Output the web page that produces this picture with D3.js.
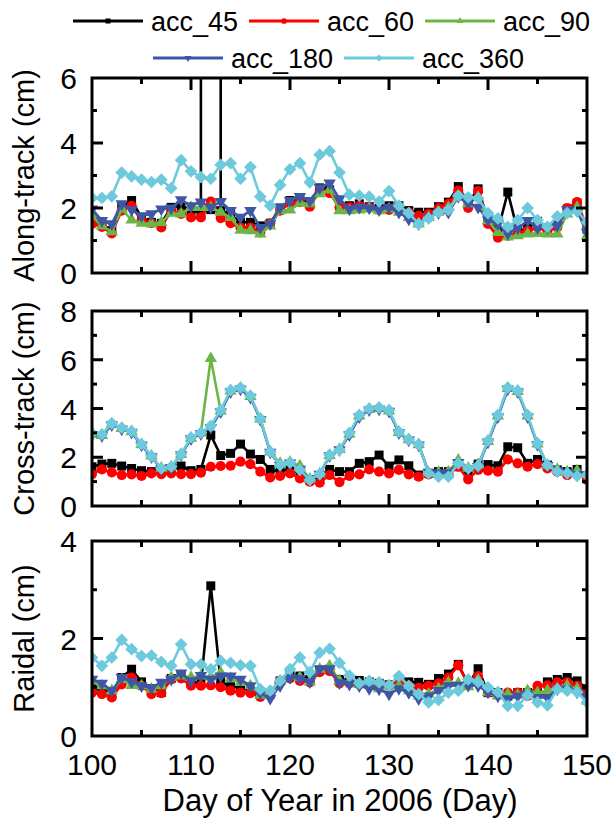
<!DOCTYPE html>
<html>
<head>
<meta charset="utf-8">
<script src="https://cdn.jsdelivr.net/npm/d3@7"></script>
<style>
  body { margin: 0; background: #fff; }
  svg { display: block; font-family: "Liberation Sans", Arial, sans-serif; }
</style>
</head>
<body>
<svg id="chart" width="612" height="819"></svg>
<script>
// day of year, one value per day
var days = d3.range(100, 151);
var xTickLabels = [100, 110, 120, 130, 140, 150];

var seriesNames = ['acc_45', 'acc_60', 'acc_90', 'acc_180', 'acc_360'];
var seriesColors = ['#000000', '#ff0000', '#6cb547', '#3d56a6', '#6dc9dc'];

// along-track (cm)
var along45 = [1.70,1.49,1.30,2.02,2.23,1.71,1.56,1.53,2.02,2.07,1.92,1.86,1.95,1.92,1.80,1.56,1.56,1.45,1.53,2.00,2.23,2.28,2.18,2.62,2.56,2.07,2.07,2.13,2.04,1.99,2.07,2.07,1.92,1.87,1.87,2.04,2.18,2.66,2.15,2.59,1.63,1.30,2.49,1.28,1.38,1.59,1.40,1.46,1.97,2.15,1.35];
var along60 = [1.51,1.42,1.22,1.92,2.07,1.61,1.53,1.40,1.92,1.82,1.71,1.71,2.20,1.69,1.53,1.40,1.40,1.25,1.53,1.92,2.15,2.18,2.04,2.54,2.46,2.02,2.02,2.07,2.02,1.94,1.94,2.02,1.87,1.76,1.82,2.00,2.13,2.54,2.00,2.52,1.51,1.09,1.15,1.22,1.30,1.40,1.30,1.40,2.00,2.18,1.40];
var along90 = [1.76,1.45,1.27,1.97,1.63,1.53,1.51,1.56,1.84,1.82,2.02,2.02,2.02,1.87,1.71,1.32,1.30,1.20,1.45,1.92,1.94,2.15,2.13,2.44,2.56,1.92,1.92,1.94,1.97,1.92,1.97,1.87,1.71,1.51,1.71,1.87,2.02,2.33,2.13,2.33,1.61,1.25,1.11,1.15,1.20,1.22,1.20,1.20,1.82,2.02,1.15];
var along180 = [1.97,1.61,1.51,2.13,1.94,1.76,1.82,1.97,2.00,2.25,2.07,2.18,2.02,2.20,1.92,1.71,1.92,1.40,1.51,2.02,2.23,2.35,2.23,2.62,2.77,2.28,1.97,2.02,2.00,1.94,2.02,1.87,1.66,1.51,1.71,1.85,1.87,2.35,2.15,2.02,1.63,1.51,1.22,1.38,1.61,1.40,1.40,1.46,1.94,1.92,1.25];
var along360 = [2.31,2.31,2.36,3.09,2.97,2.87,2.80,2.87,2.61,3.47,3.13,2.95,2.90,3.33,3.38,2.90,3.26,2.35,2.07,2.71,3.19,3.38,2.79,3.64,3.75,3.09,2.41,2.38,2.35,2.20,2.52,2.07,1.84,1.51,1.68,1.87,1.94,2.38,2.33,2.30,1.84,1.68,1.42,1.63,2.00,1.63,1.42,1.74,1.84,1.90,1.56];
// acc_45 along-track goes far off scale on these days
var along45SpikeDays = [111, 113];
var along45SpikeValue = 60;

// cross-track (cm)
var cross45 = [1.61,1.72,1.75,1.64,1.54,1.45,1.41,1.50,1.48,1.64,1.45,1.50,2.91,2.07,2.16,2.54,2.13,1.91,1.50,1.41,1.54,1.34,1.07,1.09,1.50,1.41,1.41,1.75,1.82,2.09,1.64,1.89,1.65,1.27,1.34,1.41,1.41,1.61,1.27,1.72,1.70,1.65,2.43,2.39,1.75,1.91,1.68,1.48,1.41,1.50,1.20];
var cross60 = [1.31,1.50,1.38,1.27,1.30,1.23,1.34,1.31,1.34,1.31,1.31,1.37,1.61,1.64,1.65,1.82,1.72,1.41,1.17,1.23,1.34,1.13,1.00,0.96,1.27,0.98,1.23,1.30,1.50,1.41,1.34,1.48,1.30,1.20,1.30,1.30,1.36,1.61,1.09,1.48,1.45,1.41,1.91,1.75,1.61,1.72,1.54,1.41,1.27,1.34,1.07];
var cross90 = [2.95,2.90,3.36,3.18,3.05,2.52,2.05,1.55,1.60,2.12,2.78,3.00,6.05,3.90,4.72,4.82,4.50,3.57,2.22,1.75,1.80,1.65,1.10,1.32,2.08,2.32,2.95,3.70,3.96,4.00,3.90,3.02,2.72,2.52,1.36,1.38,1.40,1.88,1.55,1.70,2.65,3.70,4.82,4.70,3.70,2.55,1.68,1.50,1.40,1.45,1.30];
var cross180 = [2.92,2.88,3.33,3.16,3.02,2.50,2.02,1.52,1.58,2.10,2.76,2.96,3.22,3.86,4.68,4.80,4.46,3.55,2.20,1.66,1.76,1.50,1.10,1.30,2.06,2.30,2.92,3.66,3.94,3.98,3.88,3.00,2.70,2.50,1.38,1.35,1.36,1.78,1.52,1.62,2.62,3.66,4.80,4.68,3.66,2.52,1.66,1.45,1.36,1.30,1.28];
var cross360 = [2.98,2.94,3.39,3.21,3.07,2.54,2.05,1.54,1.61,2.13,2.81,3.01,3.29,3.93,4.75,4.86,4.52,3.59,2.23,1.68,1.78,1.48,1.07,1.31,2.10,2.30,3.00,3.73,4.00,4.04,3.93,3.05,2.73,2.53,1.34,1.20,1.20,1.75,1.54,1.65,2.68,3.73,4.86,4.73,3.73,2.57,1.68,1.41,1.34,1.23,1.27];

// radial (cm)
var radial45 = [0.97,0.95,0.88,1.20,1.37,1.11,0.97,0.89,1.18,1.24,1.11,1.08,3.08,1.11,1.01,0.99,0.93,0.86,0.86,1.13,1.27,1.23,1.16,1.35,1.37,1.16,1.16,1.14,1.11,1.08,1.05,1.13,1.11,1.10,1.06,1.18,1.27,1.47,1.06,1.38,0.89,0.89,0.82,0.89,0.89,0.96,1.11,1.16,1.20,1.13,0.97];
var radial60 = [0.89,0.86,0.79,1.06,1.20,1.03,0.86,0.88,1.16,1.18,1.03,1.03,1.04,1.00,0.93,0.89,0.88,0.80,0.90,1.13,1.18,1.13,1.10,1.31,1.33,1.08,1.08,1.06,1.08,1.06,1.04,1.06,1.03,0.99,1.03,1.08,1.20,1.45,1.06,1.23,0.89,0.86,0.89,0.89,0.82,1.03,1.04,1.10,1.10,1.03,0.86];
var radial90 = [1.13,1.03,0.93,1.16,1.04,1.03,0.96,1.03,1.20,1.23,1.20,1.23,1.21,1.30,1.18,1.10,1.03,0.84,0.89,1.13,1.23,1.20,1.11,1.37,1.44,1.13,1.10,1.06,1.10,0.97,1.03,1.03,0.93,0.82,0.86,0.97,1.10,1.08,1.01,1.15,0.90,0.82,0.86,0.84,0.93,0.89,0.93,0.97,1.04,0.97,0.72];
var radial180 = [1.16,1.08,0.93,1.20,1.11,1.03,0.99,1.10,1.16,1.29,1.13,1.24,1.16,1.23,1.23,1.16,1.03,0.88,0.77,1.03,1.20,1.18,1.11,1.38,1.38,1.09,1.06,1.03,0.97,0.96,0.86,0.97,0.89,0.76,0.82,0.93,1.03,1.04,1.04,1.03,0.90,0.82,0.76,0.82,0.86,0.79,0.79,0.96,0.96,0.90,0.82];
var radial360 = [1.61,1.44,1.61,1.97,1.78,1.64,1.65,1.52,1.44,1.88,1.47,1.47,1.37,1.54,1.50,1.45,1.44,0.96,0.93,1.13,1.37,1.61,1.31,1.71,1.79,1.50,1.24,1.08,1.13,1.10,1.04,1.23,1.03,0.86,0.69,0.74,0.89,0.93,1.16,1.11,1.00,0.90,0.62,0.62,0.84,0.69,0.63,0.96,0.93,0.90,0.69];

var panels = [
  { title: 'Along-track (cm)', top: 78, yMax: 6, yLabels: [0, 2, 4, 6], series: [along45, along60, along90, along180, along360] },
  { title: 'Cross-track (cm)', top: 311, yMax: 8, yLabels: [0, 2, 4, 6, 8], series: [cross45, cross60, cross90, cross180, cross360] },
  { title: 'Raidal (cm)', top: 541, yMax: 4, yLabels: [0, 2, 4], series: [radial45, radial60, radial90, radial180, radial360] }
];

var left = 92, right = 587, panelH = 195;
var svg = d3.select('#chart');
var x = d3.scaleLinear().domain([100, 150]).range([left, right]);

// marker shapes per series
function marker(sel, i, size) {
  var types = [d3.symbolSquare, d3.symbolCircle, d3.symbolTriangle, d3.symbolTriangle, d3.symbolSquare];
  var rot = [0, 0, 0, 180, 45];
  var scale = [0.85, 0.85, 0.7, 0.7, 0.85];
  sel.attr('d', d3.symbol().type(types[i]).size(size * scale[i]))
    .attr('transform', function(d) { return d3.select(this).attr('transform') + ' rotate(' + rot[i] + ')'; });
}

panels.forEach(function(p, pi) {
  var y = d3.scaleLinear().domain([0, p.yMax]).range([p.top + panelH, p.top]);
  var g = svg.append('g');

  g.append('clipPath').attr('id', 'clip' + pi)
    .append('rect').attr('x', left).attr('y', p.top).attr('width', right - left).attr('height', panelH);

  var plot = g.append('g').attr('clip-path', 'url(#clip' + pi + ')');

  p.series.forEach(function(vals, si) {
    var pts = days.map(function(d, k) { return [d, vals[k]]; });
    var linePts = pts;
    if (pi === 0 && si === 0) {
      linePts = [];
      pts.forEach(function(pt) {
        linePts.push(pt);
        if (along45SpikeDays.indexOf(pt[0]) >= 0) {
          linePts.push([pt[0], along45SpikeValue]);
          linePts.push(pt);
        }
      });
    }
    plot.append('path')
      .datum(linePts)
      .attr('fill', 'none')
      .attr('stroke', seriesColors[si])
      .attr('stroke-width', 2.6)
      .attr('stroke-linejoin', 'round')
      .attr('d', d3.line().x(function(d) { return x(d[0]); }).y(function(d) { return y(d[1]); }));

    plot.selectAll('.m' + si)
      .data(pts)
      .enter().append('path')
      .attr('class', 'm' + si)
      .attr('fill', seriesColors[si])
      .attr('transform', function(d) { return 'translate(' + x(d[0]) + ',' + y(d[1]) + ')'; })
      .each(function() { marker(d3.select(this), si, 95); });
  });

  // frame
  g.append('rect')
    .attr('x', left).attr('y', p.top).attr('width', right - left).attr('height', panelH)
    .attr('fill', 'none').attr('stroke', '#000').attr('stroke-width', 3);

  // ticks inside on all four sides
  var yTicks = d3.range(1, p.yMax);
  yTicks.forEach(function(v) {
    var len = v % 2 === 0 ? 11 : 5;
    g.append('line').attr('x1', left).attr('x2', left + len).attr('y1', y(v)).attr('y2', y(v))
      .attr('stroke', '#000').attr('stroke-width', 3);
    g.append('line').attr('x1', right).attr('x2', right - len).attr('y1', y(v)).attr('y2', y(v))
      .attr('stroke', '#000').attr('stroke-width', 3);
  });
  d3.range(105, 150, 5).forEach(function(d) {
    var len = d % 10 === 0 ? 12 : 6;
    g.append('line').attr('x1', x(d)).attr('x2', x(d)).attr('y1', p.top).attr('y2', p.top + len)
      .attr('stroke', '#000').attr('stroke-width', 3);
    g.append('line').attr('x1', x(d)).attr('x2', x(d)).attr('y1', p.top + panelH).attr('y2', p.top + panelH - len)
      .attr('stroke', '#000').attr('stroke-width', 3);
  });

  g.selectAll('.ylab')
    .data(p.yLabels)
    .enter().append('text')
    .attr('x', 77)
    .attr('y', function(v) { return y(v) + 11; })
    .attr('text-anchor', 'end')
    .attr('font-size', 30)
    .text(function(v) { return v; });

  g.append('text')
    .attr('transform', 'translate(34,' + (p.top + panelH / 2) + ') rotate(-90)')
    .attr('text-anchor', 'middle')
    .attr('font-size', 29)
    .text(p.title);
});

// x labels under bottom panel
svg.selectAll('.xlab')
  .data(xTickLabels)
  .enter().append('text')
  .attr('x', function(d) { return x(d); })
  .attr('y', 775)
  .attr('text-anchor', 'middle')
  .attr('font-size', 30)
  .text(function(d) { return d; });

svg.append('text')
  .attr('x', 340)
  .attr('y', 811)
  .attr('text-anchor', 'middle')
  .attr('font-size', 31)
  .text('Day of Year in 2006 (Day)');

// legend, two rows
var legendPos = [[73, 21], [249, 21], [425, 21], [153, 58], [344, 58]];
seriesNames.forEach(function(name, i) {
  var lx = legendPos[i][0], ly = legendPos[i][1];
  svg.append('line').attr('x1', lx).attr('x2', lx + 70).attr('y1', ly).attr('y2', ly)
    .attr('stroke', seriesColors[i]).attr('stroke-width', 3);
  svg.append('path')
    .attr('fill', seriesColors[i])
    .attr('transform', 'translate(' + (lx + 35) + ',' + ly + ')')
    .each(function() { marker(d3.select(this), i, 30); });
  svg.append('text').attr('x', lx + 78).attr('y', ly + 10)
    .attr('font-size', 27).text(name);
});
</script>
</body>
</html>
